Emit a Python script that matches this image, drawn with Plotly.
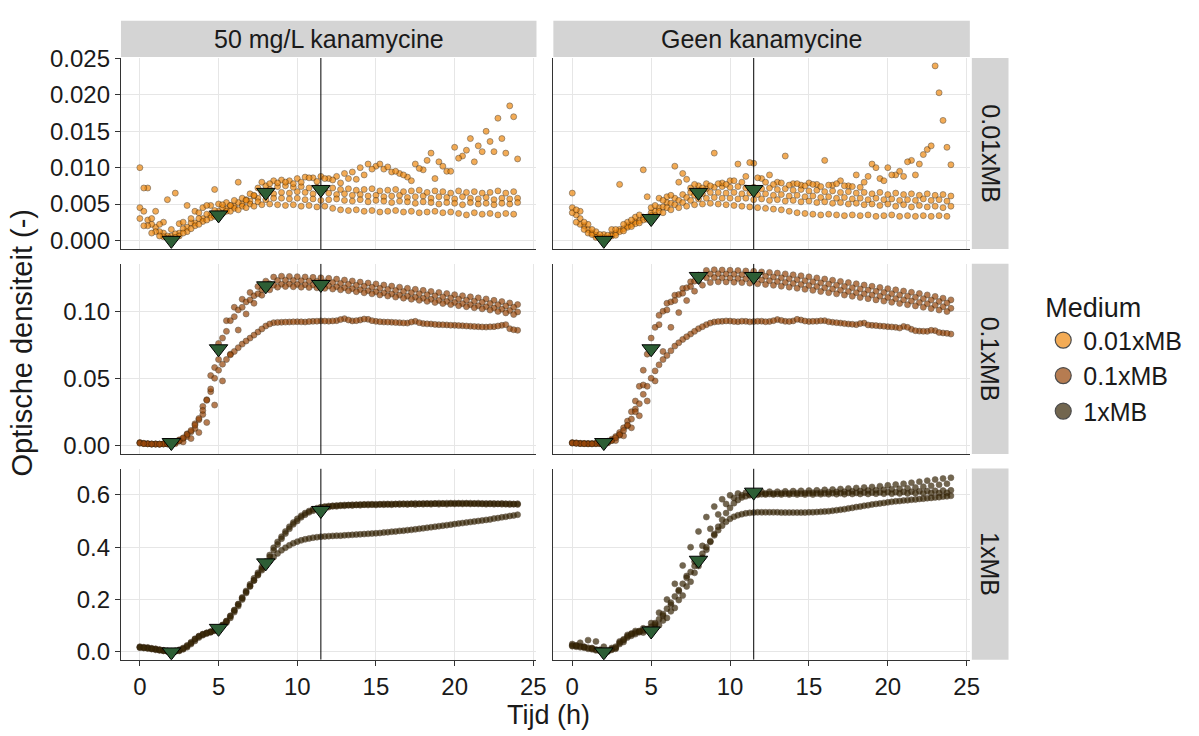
import plotly.graph_objects as go

# ---------------- data ----------------
tijd_a = [0, 0.5, 1, 1.5, 2, 2.5, 3, 3.5, 4, 4.5, 5, 5.5, 6, 6.5, 7, 7.5, 8, 8.5, 9, 9.5,
          10, 10.5, 11, 11.5, 12, 12.5, 13, 13.5, 14, 14.5, 15, 15.5, 16, 16.5, 17, 17.5,
          18, 18.5, 19, 19.5, 20, 20.5, 21, 21.5, 22, 22.5, 23, 23.5, 24]
tijd_b = [0.25, 0.75, 1.25, 1.75, 2.25, 2.75, 3.25, 3.75, 4.25, 4.75, 5.25, 5.75, 6.25, 6.75,
          7.25, 7.75, 8.25, 8.75, 9.25, 9.75, 10.25, 10.75, 11.25, 11.75, 12.25, 12.75, 13.25,
          13.75, 14.25, 14.75, 15.25, 15.75, 16.25, 16.75, 17.25, 17.75, 18.25, 18.75, 19.25,
          19.75, 20.25, 20.75, 21.25, 21.75, 22.25, 22.75, 23.25, 23.75]

kolommen = ["50 mg/L kanamycine", "Geen kanamycine"]
media = ["0.01xMB", "0.1xMB", "1xMB"]

# --- 50 mg/L kanamycine, 0.01xMB ---
k001_a = [0.0045, 0.0028, 0.0018, 0.0010, 0.0006, 0.0010, 0.0018, 0.0024, 0.0030, 0.0035,
          0.0040, 0.0043, 0.0047, 0.0050, 0.0054, 0.0058, 0.0062, 0.0064, 0.0066, 0.0065,
          0.0067, 0.0066, 0.0064, 0.0066, 0.0065, 0.0063, 0.0064, 0.0062, 0.0063, 0.0061,
          0.0062, 0.0060, 0.0061, 0.0062, 0.0059, 0.0060, 0.0061, 0.0058, 0.0060, 0.0059,
          0.0057, 0.0060, 0.0058, 0.0057, 0.0059, 0.0056, 0.0058, 0.0057, 0.0058]
k001_b = [0.0040, 0.0022, 0.0012, 0.0006, 0.0009, 0.0016, 0.0024, 0.0030, 0.0036, 0.0041,
          0.0045, 0.0048, 0.0052, 0.0056, 0.0061, 0.0066, 0.0070, 0.0074, 0.0075, 0.0073,
          0.0074, 0.0072, 0.0073, 0.0071, 0.0072, 0.0070, 0.0071, 0.0069, 0.0070, 0.0071,
          0.0068, 0.0069, 0.0070, 0.0067, 0.0068, 0.0069, 0.0066, 0.0068, 0.0067, 0.0065,
          0.0068, 0.0066, 0.0067, 0.0065, 0.0066, 0.0068, 0.0065, 0.0067]
k001_c = [0.0030, 0.0020, 0.0012, 0.0005, 0.0002, 0.0006, 0.0012, 0.0020, 0.0026, 0.0031,
          0.0035, 0.0040, 0.0044, 0.0047, 0.0050, 0.0053, 0.0056, 0.0058, 0.0058, 0.0057,
          0.0058, 0.0056, 0.0057, 0.0055, 0.0056, 0.0057, 0.0055, 0.0054, 0.0056, 0.0053,
          0.0055, 0.0054, 0.0052, 0.0054, 0.0053, 0.0051, 0.0053, 0.0052, 0.0050, 0.0052,
          0.0051, 0.0049, 0.0052, 0.0050, 0.0051, 0.0049, 0.0051, 0.0050, 0.0052]
k001_d = [0.0020, 0.0010, 0.0006, 0.0003, 0.0004, 0.0010, 0.0016, 0.0022, 0.0028, 0.0033,
          0.0037, 0.0040, 0.0042, 0.0045, 0.0047, 0.0049, 0.0050, 0.0049, 0.0048, 0.0049,
          0.0047, 0.0048, 0.0046, 0.0047, 0.0044, 0.0042, 0.0041, 0.0042, 0.0040, 0.0041,
          0.0039, 0.0040, 0.0041, 0.0039, 0.0040, 0.0038, 0.0039, 0.0040, 0.0038, 0.0039,
          0.0037, 0.0035, 0.0038, 0.0036, 0.0037, 0.0035, 0.0037, 0.0036]
k001_e = [0.0100, 0.0072, 0.0040, 0.0025, 0.0015, 0.0023, 0.0048, 0.0040, 0.0045, 0.0048,
          0.0050, 0.0052, 0.0055, 0.0058, 0.0064, 0.0072, 0.0075, 0.0082, 0.0083, 0.0082,
          0.0085, 0.0087, 0.0086, 0.0088, 0.0085, 0.0088, 0.0092, 0.0094, 0.0100, 0.0105,
          0.0102, 0.0098, 0.0094, 0.0092, 0.0087, 0.0105, 0.0097, 0.0120, 0.0108, 0.0095,
          0.0128, 0.0116, 0.0140, 0.0130, 0.0150, 0.0122, 0.0140, 0.0185, 0.0112]
k001_f = [0.0072, 0.0030, 0.0022, 0.0056, 0.0065, 0.0025, 0.0030, 0.0038, 0.0048, 0.0070,
          0.0049, 0.0048, 0.0080, 0.0055, 0.0062, 0.0080, 0.0078, 0.0079, 0.0080, 0.0078,
          0.0080, 0.0086, 0.0081, 0.0085, 0.0083, 0.0079, 0.0085, 0.0084, 0.0090, 0.0098,
          0.0105, 0.0101, 0.0095, 0.0090, 0.0082, 0.0099, 0.0110, 0.0085, 0.0102, 0.0095,
          0.0113, 0.0124, 0.0108, 0.0122, 0.0136, 0.0168, 0.0120, 0.0170]

# --- Geen kanamycine, 0.01xMB ---
g001_a = [0.0045, 0.0030, 0.0015, 0.0007, 0.0004, 0.0008, 0.0015, 0.0020, 0.0026, 0.0032,
          0.0038, 0.0045, 0.0052, 0.0058, 0.0063, 0.0066, 0.0069, 0.0071, 0.0073, 0.0074,
          0.0073, 0.0074, 0.0072, 0.0073, 0.0071, 0.0072, 0.0070, 0.0071, 0.0069, 0.0070,
          0.0068, 0.0069, 0.0067, 0.0068, 0.0066, 0.0067, 0.0065, 0.0066, 0.0064, 0.0066,
          0.0063, 0.0065, 0.0063, 0.0064, 0.0062, 0.0064, 0.0062, 0.0063, 0.0061]
g001_b = [0.0035, 0.0020, 0.0010, 0.0004, 0.0003, 0.0010, 0.0016, 0.0022, 0.0027, 0.0032,
          0.0040, 0.0046, 0.0051, 0.0055, 0.0059, 0.0062, 0.0064, 0.0066, 0.0066, 0.0065,
          0.0066, 0.0064, 0.0065, 0.0063, 0.0064, 0.0062, 0.0063, 0.0061, 0.0062, 0.0060,
          0.0061, 0.0059, 0.0060, 0.0058, 0.0059, 0.0057, 0.0058, 0.0056, 0.0058, 0.0056,
          0.0057, 0.0055, 0.0056, 0.0055, 0.0057, 0.0055, 0.0056, 0.0054]
g001_c = [0.0038, 0.0022, 0.0010, 0.0004, 0.0002, 0.0006, 0.0012, 0.0018, 0.0023, 0.0028,
          0.0034, 0.0040, 0.0045, 0.0049, 0.0052, 0.0055, 0.0057, 0.0058, 0.0059, 0.0058,
          0.0058, 0.0057, 0.0058, 0.0056, 0.0057, 0.0055, 0.0056, 0.0054, 0.0055, 0.0053,
          0.0054, 0.0052, 0.0053, 0.0051, 0.0052, 0.0050, 0.0051, 0.0049, 0.0050, 0.0048,
          0.0050, 0.0047, 0.0049, 0.0046, 0.0048, 0.0046, 0.0047, 0.0045, 0.0047]
g001_d = [0.0025, 0.0015, 0.0008, 0.0003, 0.0002, 0.0007, 0.0013, 0.0019, 0.0024, 0.0029,
          0.0034, 0.0038, 0.0042, 0.0045, 0.0047, 0.0049, 0.0050, 0.0051, 0.0050, 0.0049,
          0.0048, 0.0047, 0.0046, 0.0045, 0.0044, 0.0043, 0.0042, 0.0040, 0.0038, 0.0037,
          0.0036, 0.0035, 0.0036, 0.0035, 0.0034, 0.0035, 0.0034, 0.0035, 0.0033, 0.0034,
          0.0035, 0.0033, 0.0034, 0.0033, 0.0034, 0.0033, 0.0034, 0.0033]
g001_e = [0.0065, 0.0040, 0.0022, 0.0012, 0.0008, 0.0015, 0.0077, 0.0025, 0.0032, 0.0097,
          0.0045, 0.0058, 0.0060, 0.0102, 0.0092, 0.0072, 0.0075, 0.0078, 0.0120, 0.0079,
          0.0082, 0.0105, 0.0088, 0.0106, 0.0085, 0.0090, 0.0080, 0.0116, 0.0078, 0.0076,
          0.0079, 0.0077, 0.0110, 0.0076, 0.0082, 0.0075, 0.0090, 0.0080, 0.0105, 0.0085,
          0.0100, 0.0090, 0.0088, 0.0110, 0.0105, 0.0125, 0.0240, 0.0165, 0.0104]
g001_f = [0.0042, 0.0025, 0.0015, 0.0008, 0.0007, 0.0015, 0.0022, 0.0028, 0.0035, 0.0060,
          0.0048, 0.0055, 0.0062, 0.0080, 0.0084, 0.0077, 0.0072, 0.0075, 0.0078, 0.0077,
          0.0082, 0.0080, 0.0107, 0.0086, 0.0080, 0.0077, 0.0079, 0.0076, 0.0078, 0.0075,
          0.0077, 0.0074, 0.0076, 0.0078, 0.0075, 0.0074, 0.0073, 0.0088, 0.0100, 0.0082,
          0.0090, 0.0095, 0.0108, 0.0090, 0.0118, 0.0130, 0.0203, 0.0128]

# --- 50 mg/L kanamycine, 0.1xMB ---
k01_a = [0.0020, 0.0012, 0.0010, 0.0011, 0.0016, 0.0040, 0.0085, 0.0160, 0.0290, 0.0520,
         0.0760, 0.0930, 0.1030, 0.1090, 0.1140, 0.1185, 0.1225, 0.1255, 0.1262, 0.1260,
         0.1258, 0.1256, 0.1253, 0.1250, 0.1246, 0.1240, 0.1233, 0.1226, 0.1218, 0.1211,
         0.1204, 0.1196, 0.1188, 0.1180, 0.1172, 0.1164, 0.1156, 0.1148, 0.1140, 0.1132,
         0.1124, 0.1116, 0.1108, 0.1100, 0.1092, 0.1082, 0.1072, 0.1062, 0.1050]
k01_b = [0.0015, 0.0010, 0.0009, 0.0012, 0.0022, 0.0050, 0.0100, 0.0190, 0.0340, 0.0580,
         0.0800, 0.0930, 0.1010, 0.1070, 0.1115, 0.1160, 0.1205, 0.1230, 0.1232, 0.1230,
         0.1228, 0.1226, 0.1223, 0.1219, 0.1214, 0.1208, 0.1201, 0.1194, 0.1187, 0.1179,
         0.1171, 0.1163, 0.1155, 0.1147, 0.1139, 0.1131, 0.1123, 0.1115, 0.1107, 0.1099,
         0.1091, 0.1083, 0.1075, 0.1067, 0.1058, 0.1049, 0.1040, 0.1030]
k01_c = [0.0018, 0.0011, 0.0009, 0.0010, 0.0013, 0.0030, 0.0065, 0.0125, 0.0230, 0.0400,
         0.0640, 0.0850, 0.0960, 0.1030, 0.1085, 0.1130, 0.1170, 0.1195, 0.1202, 0.1203,
         0.1200, 0.1198, 0.1196, 0.1193, 0.1189, 0.1183, 0.1176, 0.1169, 0.1161, 0.1153,
         0.1145, 0.1137, 0.1129, 0.1121, 0.1113, 0.1105, 0.1097, 0.1089, 0.1081, 0.1073,
         0.1065, 0.1057, 0.1049, 0.1041, 0.1033, 0.1024, 0.1015, 0.1005, 0.0995]
k01_d = [0.0012, 0.0008, 0.0007, 0.0009, 0.0012, 0.0025, 0.0050, 0.0095, 0.0170, 0.0300,
         0.0480, 0.0680, 0.0860, 0.0980, 0.1060, 0.1120, 0.1160, 0.1180, 0.1185, 0.1183,
         0.1180, 0.1178, 0.1175, 0.1171, 0.1166, 0.1160, 0.1153, 0.1146, 0.1138, 0.1130,
         0.1122, 0.1114, 0.1106, 0.1098, 0.1090, 0.1082, 0.1074, 0.1066, 0.1058, 0.1050,
         0.1042, 0.1034, 0.1026, 0.1018, 0.1009, 0.0999, 0.0988, 0.0976]
k01_e = [0.0015, 0.0010, 0.0008, 0.0009, 0.0014, 0.0035, 0.0080, 0.0150, 0.0260, 0.0420,
         0.0560, 0.0640, 0.0700, 0.0755, 0.0800, 0.0845, 0.0890, 0.0915, 0.0918, 0.0920,
         0.0922, 0.0920, 0.0925, 0.0928, 0.0926, 0.0930, 0.0945, 0.0928, 0.0935, 0.0940,
         0.0925, 0.0920, 0.0918, 0.0915, 0.0912, 0.0925, 0.0908, 0.0905, 0.0900, 0.0898,
         0.0895, 0.0892, 0.0888, 0.0885, 0.0882, 0.0885, 0.0895, 0.0870, 0.0858]
k01_f = [0.0012, 0.0009, 0.0008, 0.0011, 0.0022, 0.0055, 0.0110, 0.0200, 0.0335, 0.0500,
         0.0605, 0.0675, 0.0728, 0.0778, 0.0822, 0.0868, 0.0905, 0.0917, 0.0919, 0.0921,
         0.0921, 0.0923, 0.0926, 0.0927, 0.0928, 0.0938, 0.0935, 0.0930, 0.0942, 0.0930,
         0.0922, 0.0919, 0.0916, 0.0913, 0.0920, 0.0915, 0.0906, 0.0902, 0.0899, 0.0896,
         0.0893, 0.0890, 0.0886, 0.0883, 0.0884, 0.0890, 0.0900, 0.0862]

# --- Geen kanamycine, 0.1xMB ---
g01_a = [0.0020, 0.0015, 0.0013, 0.0014, 0.0020, 0.0045, 0.0095, 0.0180, 0.0330, 0.0560,
         0.0800, 0.0970, 0.1060, 0.1120, 0.1170, 0.1220, 0.1270, 0.1305, 0.1310, 0.1308,
         0.1306, 0.1304, 0.1301, 0.1298, 0.1294, 0.1290, 0.1285, 0.1279, 0.1272, 0.1265,
         0.1257, 0.1249, 0.1241, 0.1232, 0.1223, 0.1214, 0.1205, 0.1196, 0.1187, 0.1178,
         0.1169, 0.1160, 0.1151, 0.1142, 0.1133, 0.1122, 0.1111, 0.1098, 0.1085]
g01_b = [0.0018, 0.0014, 0.0013, 0.0016, 0.0030, 0.0065, 0.0130, 0.0250, 0.0440, 0.0680,
         0.0880, 0.1000, 0.1070, 0.1125, 0.1175, 0.1225, 0.1265, 0.1278, 0.1280, 0.1278,
         0.1276, 0.1273, 0.1270, 0.1266, 0.1261, 0.1256, 0.1250, 0.1243, 0.1236, 0.1228,
         0.1220, 0.1212, 0.1203, 0.1194, 0.1185, 0.1176, 0.1167, 0.1158, 0.1149, 0.1140,
         0.1131, 0.1122, 0.1113, 0.1104, 0.1094, 0.1084, 0.1073, 0.1062]
g01_c = [0.0017, 0.0013, 0.0012, 0.0013, 0.0017, 0.0035, 0.0075, 0.0145, 0.0270, 0.0450,
         0.0700, 0.0900, 0.1010, 0.1080, 0.1135, 0.1185, 0.1230, 0.1250, 0.1252, 0.1250,
         0.1248, 0.1245, 0.1242, 0.1238, 0.1233, 0.1228, 0.1222, 0.1215, 0.1208, 0.1200,
         0.1192, 0.1184, 0.1175, 0.1166, 0.1157, 0.1148, 0.1139, 0.1130, 0.1121, 0.1112,
         0.1103, 0.1094, 0.1085, 0.1076, 0.1066, 0.1056, 0.1045, 0.1034, 0.1022]
g01_d = [0.0015, 0.0012, 0.0011, 0.0012, 0.0018, 0.0035, 0.0070, 0.0130, 0.0220, 0.0330,
         0.0480, 0.0700, 0.0880, 0.0990, 0.1080, 0.1150, 0.1195, 0.1215, 0.1220, 0.1219,
         0.1217, 0.1214, 0.1210, 0.1205, 0.1200, 0.1194, 0.1187, 0.1180, 0.1172, 0.1164,
         0.1156, 0.1148, 0.1139, 0.1130, 0.1121, 0.1112, 0.1103, 0.1094, 0.1085, 0.1076,
         0.1067, 0.1058, 0.1049, 0.1040, 0.1030, 0.1020, 0.1009, 0.0998]
g01_e = [0.0016, 0.0012, 0.0010, 0.0011, 0.0015, 0.0035, 0.0080, 0.0150, 0.0250, 0.0380,
         0.0500, 0.0600, 0.0670, 0.0740, 0.0790, 0.0830, 0.0870, 0.0900, 0.0920, 0.0925,
         0.0927, 0.0922, 0.0925, 0.0923, 0.0926, 0.0924, 0.0938, 0.0925, 0.0928, 0.0935,
         0.0924, 0.0926, 0.0930, 0.0918, 0.0912, 0.0905, 0.0900, 0.0912, 0.0895, 0.0890,
         0.0885, 0.0880, 0.0887, 0.0865, 0.0852, 0.0850, 0.0855, 0.0838, 0.0830]
g01_f = [0.0014, 0.0011, 0.0010, 0.0012, 0.0022, 0.0055, 0.0110, 0.0195, 0.0310, 0.0440,
         0.0555, 0.0640, 0.0705, 0.0765, 0.0810, 0.0850, 0.0885, 0.0912, 0.0923, 0.0928,
         0.0924, 0.0926, 0.0921, 0.0925, 0.0922, 0.0930, 0.0932, 0.0924, 0.0940, 0.0927,
         0.0925, 0.0929, 0.0922, 0.0915, 0.0908, 0.0903, 0.0908, 0.0898, 0.0893, 0.0888,
         0.0883, 0.0875, 0.0880, 0.0855, 0.0851, 0.0858, 0.0842, 0.0835]

# --- 50 mg/L kanamycine, 1xMB ---
k1_a = [0.020, 0.017, 0.012, 0.006, 0.002, 0.006, 0.022, 0.048, 0.068, 0.078,
        0.092, 0.118, 0.160, 0.208, 0.258, 0.302, 0.345, 0.398, 0.440, 0.478,
        0.508, 0.530, 0.545, 0.553, 0.557, 0.559, 0.561, 0.562, 0.563, 0.564,
        0.564, 0.565, 0.565, 0.566, 0.566, 0.567, 0.567, 0.567, 0.568, 0.568,
        0.568, 0.568, 0.568, 0.568, 0.567, 0.567, 0.567, 0.566, 0.566]
k1_b = [0.018, 0.014, 0.009, 0.004, 0.003, 0.012, 0.034, 0.060, 0.073, 0.084,
        0.103, 0.138, 0.183, 0.233, 0.281, 0.324, 0.370, 0.420, 0.460, 0.494,
        0.520, 0.538, 0.549, 0.555, 0.558, 0.560, 0.561, 0.562, 0.563, 0.564,
        0.564, 0.565, 0.565, 0.566, 0.566, 0.566, 0.567, 0.567, 0.567, 0.568,
        0.568, 0.568, 0.567, 0.567, 0.567, 0.566, 0.566, 0.565]
k1_c = [0.018, 0.015, 0.010, 0.005, 0.001, 0.004, 0.018, 0.042, 0.064, 0.075,
        0.088, 0.112, 0.152, 0.200, 0.250, 0.296, 0.338, 0.388, 0.432, 0.470,
        0.500, 0.524, 0.539, 0.548, 0.553, 0.556, 0.558, 0.559, 0.560, 0.561,
        0.561, 0.562, 0.562, 0.563, 0.563, 0.563, 0.564, 0.564, 0.564, 0.564,
        0.565, 0.565, 0.565, 0.565, 0.564, 0.564, 0.564, 0.563, 0.563]
k1_d = [0.015, 0.011, 0.006, 0.003, 0.004, 0.015, 0.037, 0.060, 0.072, 0.083,
        0.102, 0.136, 0.181, 0.229, 0.273, 0.312, 0.347, 0.376, 0.398, 0.415,
        0.426, 0.433, 0.438, 0.441, 0.443, 0.444, 0.446, 0.448, 0.450, 0.452,
        0.454, 0.457, 0.460, 0.463, 0.466, 0.470, 0.474, 0.478, 0.482, 0.486,
        0.490, 0.494, 0.498, 0.502, 0.506, 0.511, 0.516, 0.521]
k1_e = [0.016, 0.013, 0.008, 0.004, 0.002, 0.008, 0.025, 0.050, 0.067, 0.076,
        0.090, 0.117, 0.158, 0.205, 0.252, 0.293, 0.330, 0.362, 0.388, 0.407,
        0.421, 0.430, 0.436, 0.440, 0.442, 0.444, 0.445, 0.447, 0.449, 0.451,
        0.453, 0.456, 0.459, 0.462, 0.465, 0.468, 0.472, 0.476, 0.480, 0.484,
        0.488, 0.492, 0.496, 0.500, 0.504, 0.509, 0.514, 0.519, 0.524]
k1_f = [0.016, 0.012, 0.007, 0.002, 0.002, 0.010, 0.030, 0.055, 0.070, 0.081,
        0.098, 0.130, 0.175, 0.225, 0.273, 0.318, 0.362, 0.410, 0.452, 0.487,
        0.514, 0.533, 0.545, 0.552, 0.556, 0.558, 0.560, 0.561, 0.562, 0.562,
        0.563, 0.563, 0.564, 0.564, 0.565, 0.565, 0.565, 0.566, 0.566, 0.566,
        0.566, 0.566, 0.566, 0.565, 0.565, 0.565, 0.564, 0.564]

# --- Geen kanamycine, 1xMB ---
g1_a = [0.030, 0.035, 0.045, 0.040, 0.020, 0.015, 0.040, 0.065, 0.080, 0.090,
        0.110, 0.150, 0.200, 0.260, 0.330, 0.400, 0.460, 0.515, 0.555, 0.583,
        0.598, 0.605, 0.608, 0.610, 0.611, 0.612, 0.612, 0.613, 0.614, 0.615,
        0.616, 0.617, 0.619, 0.620, 0.622, 0.624, 0.626, 0.628, 0.630, 0.633,
        0.636, 0.639, 0.642, 0.646, 0.650, 0.654, 0.658, 0.662, 0.665]
g1_b = [0.025, 0.020, 0.015, 0.008, 0.003, 0.015, 0.045, 0.070, 0.080, 0.086,
        0.105, 0.138, 0.180, 0.232, 0.290, 0.345, 0.405, 0.470, 0.525, 0.565,
        0.588, 0.598, 0.602, 0.604, 0.605, 0.605, 0.606, 0.606, 0.607, 0.607,
        0.608, 0.609, 0.610, 0.611, 0.612, 0.613, 0.614, 0.616, 0.617, 0.619,
        0.621, 0.623, 0.625, 0.628, 0.631, 0.634, 0.638, 0.642]
g1_c = [0.022, 0.018, 0.012, 0.006, 0.001, 0.008, 0.030, 0.055, 0.068, 0.074,
        0.082, 0.102, 0.130, 0.168, 0.215, 0.268, 0.328, 0.390, 0.450, 0.505,
        0.550, 0.580, 0.594, 0.600, 0.602, 0.603, 0.603, 0.604, 0.604, 0.604,
        0.605, 0.605, 0.605, 0.606, 0.606, 0.607, 0.607, 0.608, 0.608, 0.609,
        0.610, 0.610, 0.611, 0.612, 0.613, 0.614, 0.615, 0.616, 0.617]
g1_d = [0.020, 0.016, 0.010, 0.004, 0.002, 0.012, 0.038, 0.062, 0.075, 0.082,
        0.095, 0.120, 0.155, 0.198, 0.250, 0.302, 0.360, 0.420, 0.478, 0.530,
        0.568, 0.590, 0.598, 0.600, 0.601, 0.601, 0.601, 0.601, 0.601, 0.601,
        0.601, 0.602, 0.602, 0.602, 0.602, 0.603, 0.603, 0.603, 0.604, 0.604,
        0.604, 0.605, 0.605, 0.606, 0.606, 0.607, 0.607, 0.608]
g1_e = [0.025, 0.022, 0.016, 0.009, 0.004, 0.010, 0.035, 0.060, 0.074, 0.082,
        0.096, 0.125, 0.165, 0.212, 0.260, 0.305, 0.350, 0.400, 0.445, 0.482,
        0.508, 0.522, 0.529, 0.532, 0.533, 0.533, 0.533, 0.532, 0.532, 0.532,
        0.533, 0.534, 0.536, 0.539, 0.543, 0.548, 0.553, 0.558, 0.563, 0.567,
        0.571, 0.575, 0.578, 0.581, 0.584, 0.587, 0.590, 0.593, 0.596]
g1_f = [0.024, 0.019, 0.013, 0.006, 0.005, 0.020, 0.048, 0.068, 0.078, 0.088,
        0.110, 0.145, 0.188, 0.236, 0.283, 0.328, 0.375, 0.423, 0.465, 0.497,
        0.516, 0.526, 0.531, 0.533, 0.533, 0.533, 0.532, 0.532, 0.532, 0.532,
        0.533, 0.535, 0.537, 0.541, 0.545, 0.550, 0.555, 0.560, 0.565, 0.569,
        0.573, 0.576, 0.579, 0.582, 0.585, 0.588, 0.591, 0.594]

# sampling moments (triangles) and the reference time line
markeer_tijd = [2, 5, 8, 11.5]
markeer_k001 = [0.0000, 0.0035, 0.0066, 0.0070]
markeer_g001 = [0.0000, 0.0030, 0.0066, 0.0070]
markeer_k01 = [0.002, 0.072, 0.119, 0.120]
markeer_g01 = [0.002, 0.072, 0.126, 0.126]
markeer_k1 = [0.000, 0.090, 0.340, 0.540]
markeer_g1 = [0.000, 0.080, 0.350, 0.610]
lijn_tijd = 11.5

x_ticks = [0, 5, 10, 15, 20, 25]
y_ticks = [[0, 0.005, 0.010, 0.015, 0.020, 0.025], [0, 0.05, 0.10], [0, 0.2, 0.4, 0.6]]
y_labels = [["0.000", "0.005", "0.010", "0.015", "0.020", "0.025"], ["0.00", "0.05", "0.10"],
            ["0.0", "0.2", "0.4", "0.6"]]

# ---------------- style / layout ----------------
W, H = 1199, 736
FONT = "Liberation Sans, Arial, sans-serif"
fill_kleur = {"0.01xMB": "rgb(238,136,14)", "0.1xMB": "rgb(152,70,8)", "1xMB": "rgb(55,38,5)"}
col_px = [(122, 541), (558, 978)]
row_px = [(46, 242), (257, 452), (467, 663)]
y_ranges = [[-0.0012, 0.0251], [-0.0065, 0.1355], [-0.030, 0.700]]
x_range = [-1.2, 25.2]
TICK_SIZE = 24


def fx(p):
    return p / W


def fy(p):
    return 1 - p / H


panelen = {
    (0, 0): ([(tijd_a, k001_a), (tijd_b, k001_b), (tijd_a, k001_c), (tijd_b, k001_d),
              (tijd_a, k001_e), (tijd_b, k001_f)], markeer_k001),
    (0, 1): ([(tijd_a, g001_a), (tijd_b, g001_b), (tijd_a, g001_c), (tijd_b, g001_d),
              (tijd_a, g001_e), (tijd_b, g001_f)], markeer_g001),
    (1, 0): ([(tijd_a, k01_a), (tijd_b, k01_b), (tijd_a, k01_c), (tijd_b, k01_d),
              (tijd_a, k01_e), (tijd_b, k01_f)], markeer_k01),
    (1, 1): ([(tijd_a, g01_a), (tijd_b, g01_b), (tijd_a, g01_c), (tijd_b, g01_d),
              (tijd_a, g01_e), (tijd_b, g01_f)], markeer_g01),
    (2, 0): ([(tijd_a, k1_a), (tijd_b, k1_b), (tijd_a, k1_c), (tijd_b, k1_d),
              (tijd_a, k1_e), (tijd_b, k1_f)], markeer_k1),
    (2, 1): ([(tijd_a, g1_a), (tijd_b, g1_b), (tijd_a, g1_c), (tijd_b, g1_d),
              (tijd_a, g1_e), (tijd_b, g1_f)], markeer_g1),
}

fig = go.Figure()
layout = {}
shapes = []
annotations = []

for (r, c), (reeksen, markeer) in panelen.items():
    n = r * 2 + c + 1
    xa, ya = f"x{n}", f"y{n}"
    medium = media[r]
    for tx, vals in reeksen:
        fig.add_trace(go.Scatter(
            x=tx[:len(vals)], y=vals, xaxis=xa, yaxis=ya, mode="markers",
            showlegend=False, hoverinfo="skip",
            marker=dict(size=6, color=fill_kleur[medium], opacity=0.7,
                        line=dict(color="rgb(45,28,8)", width=0.6))))
    fig.add_trace(go.Scatter(
        x=[lijn_tijd, lijn_tijd], y=y_ranges[r], xaxis=xa, yaxis=ya, mode="lines",
        showlegend=False, hoverinfo="skip", line=dict(color="black", width=1)))
    fig.add_trace(go.Scatter(
        x=markeer_tijd, y=markeer, xaxis=xa, yaxis=ya, mode="markers",
        showlegend=False, hoverinfo="skip",
        marker=dict(symbol="triangle-down", size=16, color="#2D5E35",
                    line=dict(color="black", width=1))))

    ax_key = "xaxis" if n == 1 else f"xaxis{n}"
    ay_key = "yaxis" if n == 1 else f"yaxis{n}"
    bottom = r == 2
    left = c == 0
    layout[ax_key] = dict(
        domain=[fx(col_px[c][0]), fx(col_px[c][1])], range=x_range, anchor=ya,
        tickvals=x_ticks, ticktext=[str(v) for v in x_ticks],
        showticklabels=bottom, ticks="outside" if bottom else "", ticklen=5,
        tickcolor="#333333", tickfont=dict(size=TICK_SIZE, color="#1A1A1A", family=FONT),
        showgrid=True, gridcolor="#E6E6E6", gridwidth=1, zeroline=False,
        showline=True, linecolor="#333333", linewidth=1.3)
    layout[ay_key] = dict(
        domain=[fy(row_px[r][1]), fy(row_px[r][0])], range=y_ranges[r], anchor=xa,
        tickvals=y_ticks[r], ticktext=y_labels[r],
        showticklabels=left, ticks="outside" if left else "", ticklen=5,
        tickcolor="#333333", tickfont=dict(size=TICK_SIZE, color="#1A1A1A", family=FONT),
        showgrid=True, gridcolor="#E6E6E6", gridwidth=1, zeroline=False,
        showline=True, linecolor="#333333", linewidth=1.3)

# strips
for c, naam in enumerate(kolommen):
    shapes.append(dict(type="rect", xref="paper", yref="paper",
                       x0=fx(col_px[c][0]), x1=fx(col_px[c][1]), y0=fy(45), y1=fy(8),
                       fillcolor="#D4D4D4", line=dict(width=0), layer="below"))
    annotations.append(dict(xref="paper", yref="paper", x=fx(sum(col_px[c]) / 2), y=fy(27),
                            text=naam, showarrow=False, xanchor="center", yanchor="middle",
                            font=dict(size=25, color="#1A1A1A", family=FONT)))
for r, naam in enumerate(media):
    shapes.append(dict(type="rect", xref="paper", yref="paper",
                       x0=fx(980), x1=fx(1017), y0=fy(row_px[r][1]), y1=fy(row_px[r][0]),
                       fillcolor="#D4D4D4", line=dict(width=0), layer="below"))
    annotations.append(dict(xref="paper", yref="paper", x=fx(998.5), y=fy(sum(row_px[r]) / 2),
                            text=naam, showarrow=False, textangle=90, xanchor="center",
                            yanchor="middle", font=dict(size=25, color="#1A1A1A", family=FONT)))

# axis titles
annotations.append(dict(xref="paper", yref="paper", x=fx(553), y=fy(720), text="Tijd (h)",
                        showarrow=False, xanchor="center", yanchor="middle",
                        font=dict(size=27, color="#1A1A1A", family=FONT)))
annotations.append(dict(xref="paper", yref="paper", x=fx(22), y=fy(338), text="Optische densiteit (-)",
                        showarrow=False, textangle=-90, xanchor="center", yanchor="middle",
                        font=dict(size=29, color="#1A1A1A", family=FONT)))

# legend entries
for m in media:
    fig.add_trace(go.Scatter(x=[None], y=[None], mode="markers", name=m, showlegend=True,
                             legendgroup=m,
                             marker=dict(size=16, color=fill_kleur[m], opacity=0.7,
                                         line=dict(color="black", width=1.2))))

fig.update_layout(
    width=W, height=H, margin=dict(l=0, r=0, t=0, b=0),
    paper_bgcolor="white", plot_bgcolor="white",
    font=dict(family=FONT, color="#1A1A1A"),
    shapes=shapes, annotations=annotations,
    legend=dict(x=fx(1052), y=fy(276), xanchor="left", yanchor="top",
                title=dict(text="Medium", font=dict(size=27, family=FONT, color="#1A1A1A")),
                font=dict(size=25, family=FONT, color="#1A1A1A"),
                itemsizing="trace", tracegroupgap=0, bgcolor="rgba(0,0,0,0)"),
    **layout)

fig.write_html("out.html")
